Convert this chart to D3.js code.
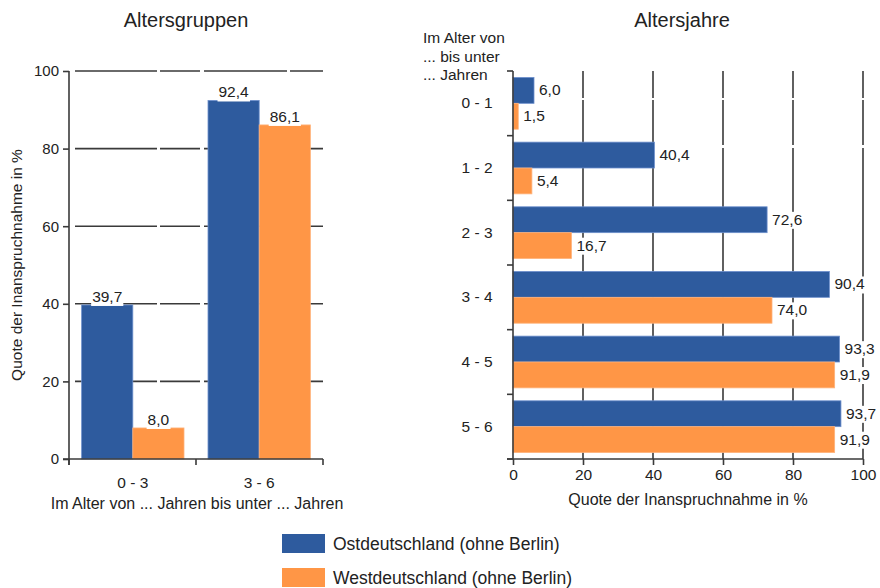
<!DOCTYPE html>
<html>
<head>
<meta charset="utf-8">
<script src="https://cdn.jsdelivr.net/npm/d3@7"></script>
<style>
  html, body { margin: 0; padding: 0; background: #fff; }
  svg { display: block; font-family: "Liberation Sans", Arial, Helvetica, sans-serif; }
</style>
</head>
<body>
<svg id="chart" width="880" height="588"></svg>
<script>
// Series
const seriesNames = ["Ostdeutschland (ohne Berlin)", "Westdeutschland (ohne Berlin)"];
const seriesColors = ["#2e5b9e", "#ff9646"];
const seriesEdges = ["#6d8fcc", "#ffb27a"];

// Altersgruppen (left panel)
const groupCategories = ["0 - 3", "3 - 6"];
const groupOst = [39.7, 92.4];
const groupWest = [8.0, 86.1];

// Altersjahre (right panel)
const yearCategories = ["0 - 1", "1 - 2", "2 - 3", "3 - 4", "4 - 5", "5 - 6"];
const yearOst = [6.0, 40.4, 72.6, 90.4, 93.3, 93.7];
const yearWest = [1.5, 5.4, 16.7, 74.0, 91.9, 91.9];

const valueTicks = [0, 20, 40, 60, 80, 100];

const fmt = v => v.toFixed(1).replace(".", ",");
const ink = "#222";
const gridInk = "#3a3a3a";

const svg = d3.select("#chart");

// label with a white box behind it
function boxedLabel(g, x, y, text, anchor, baseline) {
  const t = g.append("text")
    .attr("x", x).attr("y", y)
    .attr("text-anchor", anchor)
    .attr("dominant-baseline", baseline || "auto")
    .attr("font-size", 15.5).attr("fill", ink)
    .text(text);
  const b = t.node().getBBox();
  g.insert("rect", () => t.node())
    .attr("x", b.x - 1).attr("y", b.y + 1)
    .attr("width", b.width + 2).attr("height", b.height)
    .attr("fill", "#fff");
}

/* ---------- left: Altersgruppen ---------- */
{
  const g = svg.append("g");
  const y = d3.scaleLinear().domain([0, 100]).range([459, 71]);
  const x0 = d3.scaleBand().domain(groupCategories).range([69, 323])
    .paddingInner(0.19).paddingOuter(0.1);
  const x1 = d3.scaleBand().domain([0, 1]).range([0, x0.bandwidth()]);

  // horizontal grid
  g.append("g").selectAll("line").data(valueTicks.slice(1)).join("line")
    .attr("x1", 69).attr("x2", 323)
    .attr("y1", d => y(d)).attr("y2", d => y(d))
    .attr("stroke", gridInk).attr("stroke-width", 1.6)
    .attr("stroke-dasharray", "0,6,82,3,40,4,83,3,40");

  // bars
  const rows = groupCategories.map((c, i) => [groupOst[i], groupWest[i]]);
  groupCategories.forEach((c, i) => {
    rows[i].forEach((v, s) => {
      g.append("rect")
        .attr("x", x0(c) + x1(s)).attr("width", x1.bandwidth())
        .attr("y", y(v)).attr("height", y(0) - y(v))
        .attr("fill", seriesColors[s])
        .attr("stroke", seriesEdges[s]).attr("stroke-width", 0.8);
    });
  });
  groupCategories.forEach((c, i) => {
    rows[i].forEach((v, s) => {
      boxedLabel(g, x0(c) + x1(s) + x1.bandwidth() / 2, y(v) - 3, fmt(v), "middle");
    });
  });

  // value axis
  const yAxis = d3.axisLeft(y).tickValues(valueTicks).tickSize(6).tickPadding(4).tickFormat(d3.format("d"));
  const ya = g.append("g").attr("transform", "translate(69,0)").call(yAxis);
  ya.select(".domain").attr("d", "M0,71V465").attr("stroke", gridInk).attr("stroke-width", 1.6);
  ya.selectAll(".tick line").attr("stroke", gridInk).attr("stroke-width", 1.6);
  ya.selectAll(".tick text").attr("font-size", 15).attr("fill", ink).attr("font-family", null);

  // category axis
  g.append("line").attr("x1", 63).attr("x2", 323).attr("y1", 459).attr("y2", 459)
    .attr("stroke", gridInk).attr("stroke-width", 1.6);
  const bounds = [x0.range()[0], (x0(groupCategories[0]) + x0.bandwidth() + x0(groupCategories[1])) / 2, x0.range()[1]];
  g.append("g").selectAll("line").data(bounds).join("line")
    .attr("x1", d => d).attr("x2", d => d).attr("y1", 459).attr("y2", 465)
    .attr("stroke", gridInk).attr("stroke-width", 1.6);
  g.append("g").selectAll("text").data(groupCategories).join("text")
    .attr("x", d => x0(d) + x0.bandwidth() / 2).attr("y", 488)
    .attr("text-anchor", "middle").attr("font-size", 15.5).attr("fill", ink)
    .text(d => d);

  g.append("text").attr("x", 197).attr("y", 509).attr("text-anchor", "middle")
    .attr("font-size", 16).attr("fill", ink)
    .text("Im Alter von ... Jahren bis unter ... Jahren");
  g.append("text").attr("transform", "translate(22,265) rotate(-90)")
    .attr("text-anchor", "middle").attr("font-size", 15.5).attr("fill", ink)
    .text("Quote der Inanspruchnahme in %");
  g.append("text").attr("x", 186).attr("y", 27).attr("text-anchor", "middle")
    .attr("font-size", 20).attr("fill", ink).text("Altersgruppen");
}

/* ---------- right: Altersjahre ---------- */
{
  const g = svg.append("g");
  const x = d3.scaleLinear().domain([0, 100]).range([513, 863]);
  const y0 = d3.scaleBand().domain(yearCategories).range([71, 459])
    .paddingInner(0.2).paddingOuter(0.1);
  const y1 = d3.scaleBand().domain([0, 1]).range([0, y0.bandwidth()]);

  // vertical grid
  g.append("g").selectAll("line").data(valueTicks.slice(1)).join("line")
    .attr("x1", d => x(d)).attr("x2", d => x(d))
    .attr("y1", 71).attr("y2", 459)
    .attr("stroke", gridInk).attr("stroke-width", 1.6)
    .attr("stroke-dasharray", "27,2,45,3,400");

  const rows = yearCategories.map((c, i) => [yearOst[i], yearWest[i]]);
  yearCategories.forEach((c, i) => {
    rows[i].forEach((v, s) => {
      g.append("rect")
        .attr("x", x(0)).attr("width", x(v) - x(0))
        .attr("y", y0(c) + y1(s)).attr("height", y1.bandwidth())
        .attr("fill", seriesColors[s])
        .attr("stroke", seriesEdges[s]).attr("stroke-width", 0.8);
    });
  });
  yearCategories.forEach((c, i) => {
    rows[i].forEach((v, s) => {
      boxedLabel(g, x(v) + 5, y0(c) + y1(s) + y1.bandwidth() / 2 + 1, fmt(v), "start", "middle");
    });
  });

  // category axis
  const step = y0.step();
  const edges = yearCategories.map(c => y0(c) - step * 0.1).concat([459]);
  g.append("line").attr("x1", 513).attr("x2", 513).attr("y1", 71).attr("y2", 459)
    .attr("stroke", gridInk).attr("stroke-width", 1.6);
  g.append("g").selectAll("line").data(edges).join("line")
    .attr("x1", 507).attr("x2", 513).attr("y1", d => d).attr("y2", d => d)
    .attr("stroke", gridInk).attr("stroke-width", 1.6);
  g.append("g").selectAll("text").data(yearCategories).join("text")
    .attr("x", 477).attr("y", d => y0(d) + y0.bandwidth() / 2 + 1)
    .attr("text-anchor", "middle").attr("dominant-baseline", "middle")
    .attr("font-size", 15.5).attr("fill", ink).text(d => d);

  // value axis
  const xAxis = d3.axisBottom(x).tickValues(valueTicks).tickSize(6).tickPadding(4).tickFormat(d3.format("d"));
  const xa = g.append("g").attr("transform", "translate(0,459)").call(xAxis);
  xa.select(".domain").attr("d", "M507,0H863").attr("stroke", gridInk).attr("stroke-width", 1.6);
  xa.selectAll(".tick line").attr("stroke", gridInk).attr("stroke-width", 1.6);
  xa.selectAll(".tick text").attr("font-size", 15.5).attr("fill", ink).attr("font-family", null);

  g.append("text").attr("x", 688).attr("y", 505).attr("text-anchor", "middle")
    .attr("font-size", 16).attr("fill", ink).text("Quote der Inanspruchnahme in %");

  g.selectAll(".head").data(["Im Alter von", "... bis unter", "... Jahren"]).join("text")
    .attr("x", 423).attr("y", (d, i) => 43 + i * 18.5)
    .attr("font-size", 15.5).attr("fill", ink).text(d => d);

  g.append("text").attr("x", 682).attr("y", 27).attr("text-anchor", "middle")
    .attr("font-size", 20).attr("fill", ink).text("Altersjahre");
}

/* ---------- legend ---------- */
{
  const lg = svg.append("g");
  seriesNames.forEach((n, i) => {
    lg.append("rect").attr("x", 282).attr("y", 534 + i * 34).attr("width", 43).attr("height", 19)
      .attr("fill", seriesColors[i]);
    lg.append("text").attr("x", 333).attr("y", 550 + i * 34)
      .attr("font-size", 17.5).attr("fill", ink).text(n);
  });
}
</script>
</body>
</html>
